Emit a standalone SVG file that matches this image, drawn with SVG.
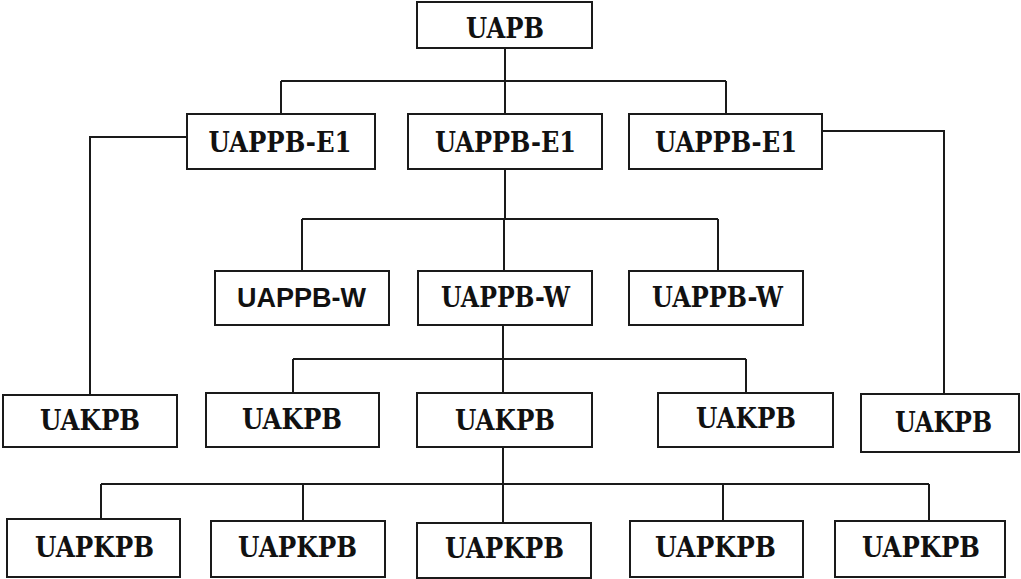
<svg xmlns="http://www.w3.org/2000/svg" width="1021" height="579" viewBox="0 0 1021 579">
<style>
.box{fill:#fff;stroke:#1a1a1a;stroke-width:2}
.t{font-family:"DejaVu Serif","Liberation Serif",serif;font-weight:bold;font-size:28px;fill:#111;text-anchor:middle}
.s{font-family:"Liberation Sans",Arial,sans-serif;font-weight:bold;font-size:27px;fill:#111;text-anchor:middle}
.c{fill:none;stroke:#1a1a1a;stroke-width:2}
</style>
<rect width="1021" height="579" fill="#fff"/>
<g id="connectors">
<path class="c" d="M505 48V114M281 81H726M281 81V114M726 81V114"/>
<path class="c" d="M187 137H90V395"/>
<path class="c" d="M822 131H944V394"/>
<path class="c" d="M505 169V219M302 219H718M302 219V271M504 219V271M718 219V271"/>
<path class="c" d="M503 325V359M293 359H746M293 359V393M503 359V393M746 359V393"/>
<path class="c" d="M503 447V484M101 484H929M101 484V519M303 484V521M503 484V523M723 484V521M929 484V521"/>
</g>
<g id="uapb"><rect class="box" x="417" y="2" width="175" height="46"/><text class="t" x="505" y="38" textLength="78" lengthAdjust="spacingAndGlyphs">UAPB</text></g>
<g id="e1a"><rect class="box" x="187" y="114" width="188" height="55"/><text class="t" x="280" y="152" textLength="143" lengthAdjust="spacingAndGlyphs">UAPPB-E1</text></g>
<g id="e1b"><rect class="box" x="408" y="114" width="194" height="55"/><text class="t" x="505.5" y="152" textLength="141" lengthAdjust="spacingAndGlyphs">UAPPB-E1</text></g>
<g id="e1c"><rect class="box" x="629" y="114" width="193" height="55"/><text class="t" x="726" y="152" textLength="142" lengthAdjust="spacingAndGlyphs">UAPPB-E1</text></g>
<g id="wa"><rect class="box" x="215" y="271" width="174" height="54"/><text class="s" x="301.5" y="307" textLength="129" lengthAdjust="spacingAndGlyphs">UAPPB-W</text></g>
<g id="wb"><rect class="box" x="418" y="271" width="174" height="54"/><text class="t" x="505.5" y="307" textLength="129" lengthAdjust="spacingAndGlyphs">UAPPB-W</text></g>
<g id="wc"><rect class="box" x="629" y="271" width="174" height="54"/><text class="t" x="717.5" y="307" textLength="131" lengthAdjust="spacingAndGlyphs">UAPPB-W</text></g>
<g id="k1"><rect class="box" x="3" y="395" width="174" height="52"/><text class="t" x="90" y="430" textLength="100" lengthAdjust="spacingAndGlyphs">UAKPB</text></g>
<g id="k2"><rect class="box" x="206" y="393" width="173" height="54"/><text class="t" x="292" y="429" textLength="100" lengthAdjust="spacingAndGlyphs">UAKPB</text></g>
<g id="k3"><rect class="box" x="417" y="393" width="175" height="54"/><text class="t" x="505" y="430" textLength="100" lengthAdjust="spacingAndGlyphs">UAKPB</text></g>
<g id="k4"><rect class="box" x="658" y="393" width="175" height="54"/><text class="t" x="746" y="428" textLength="100" lengthAdjust="spacingAndGlyphs">UAKPB</text></g>
<g id="k5"><rect class="box" x="861" y="394" width="158" height="58"/><text class="t" x="943.5" y="432" textLength="97" lengthAdjust="spacingAndGlyphs">UAKPB</text></g>
<g id="p1"><rect class="box" x="7" y="519" width="173" height="58"/><text class="t" x="94.5" y="557" textLength="119" lengthAdjust="spacingAndGlyphs">UAPKPB</text></g>
<g id="p2"><rect class="box" x="211" y="521" width="174" height="56"/><text class="t" x="297.5" y="557" textLength="119" lengthAdjust="spacingAndGlyphs">UAPKPB</text></g>
<g id="p3"><rect class="box" x="417" y="523" width="174" height="55"/><text class="t" x="504.5" y="558" textLength="119" lengthAdjust="spacingAndGlyphs">UAPKPB</text></g>
<g id="p4"><rect class="box" x="630" y="521" width="173" height="56"/><text class="t" x="715.5" y="557" textLength="121" lengthAdjust="spacingAndGlyphs">UAPKPB</text></g>
<g id="p5"><rect class="box" x="835" y="521" width="170" height="56"/><text class="t" x="921" y="557" textLength="118" lengthAdjust="spacingAndGlyphs">UAPKPB</text></g>
</svg>
